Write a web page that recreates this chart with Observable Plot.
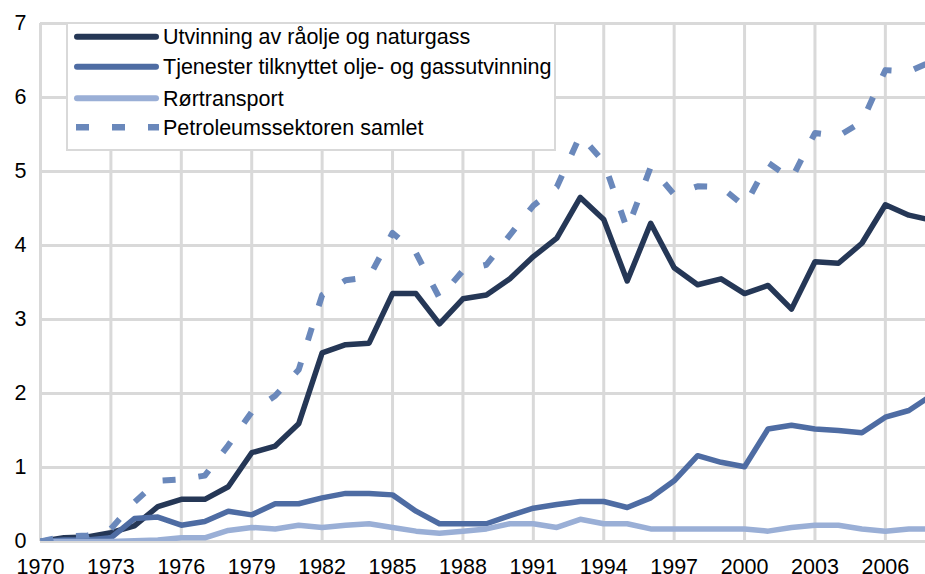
<!DOCTYPE html>
<html>
<head>
<meta charset="utf-8">
<script src="https://cdn.jsdelivr.net/npm/d3@7"></script>
<script src="https://cdn.jsdelivr.net/npm/@observablehq/plot@0.6"></script>
<style>
  html, body { margin: 0; padding: 0; background: #fff; }
  #wrap { position: relative; width: 925px; height: 574px; font-family: "Liberation Sans", Arial, sans-serif; }
  #legend { position: absolute; left: 66px; top: 22px; }
</style>
</head>
<body>
<div id="wrap"></div>
<script>
const years = d3.range(1970, 2009);
const seriesNames = [
  "Utvinning av råolje og naturgass",
  "Tjenester tilknyttet olje- og gassutvinning",
  "Rørtransport",
  "Petroleumssektoren samlet"
];
const utvinning = [0, 0.05, 0.06, 0.12, 0.21, 0.47, 0.57, 0.57, 0.74, 1.2, 1.29, 1.59, 2.55, 2.66, 2.68, 3.35, 3.35, 2.94, 3.28, 3.33, 3.55, 3.85, 4.1, 4.65, 4.35, 3.52, 4.3, 3.7, 3.47, 3.55, 3.35, 3.46, 3.14, 3.78, 3.76, 4.03, 4.55, 4.41, 4.34];
const tjenester = [0, 0.02, 0.02, 0.05, 0.31, 0.33, 0.22, 0.27, 0.41, 0.36, 0.51, 0.51, 0.59, 0.65, 0.65, 0.63, 0.41, 0.24, 0.24, 0.24, 0.35, 0.45, 0.5, 0.54, 0.54, 0.46, 0.59, 0.82, 1.16, 1.07, 1.01, 1.52, 1.57, 1.52, 1.5, 1.47, 1.68, 1.77, 1.98];
const rortransport = [0, 0, 0, 0, 0.01, 0.02, 0.05, 0.05, 0.15, 0.19, 0.17, 0.22, 0.19, 0.22, 0.24, 0.19, 0.14, 0.11, 0.14, 0.17, 0.24, 0.24, 0.19, 0.3, 0.24, 0.24, 0.17, 0.17, 0.17, 0.17, 0.17, 0.14, 0.19, 0.22, 0.22, 0.17, 0.14, 0.17, 0.17];
const petroleum = [0, 0.07, 0.08, 0.17, 0.53, 0.82, 0.84, 0.89, 1.3, 1.75, 1.97, 2.32, 3.33, 3.53, 3.57, 4.17, 3.9, 3.29, 3.66, 3.74, 4.14, 4.54, 4.79, 5.49, 5.13, 4.22, 5.06, 4.69, 4.8, 4.79, 4.53, 5.12, 4.9, 5.52, 5.48, 5.67, 6.37, 6.35, 6.49];
const xTicks = d3.range(1970, 2007, 3);
const yTicks = d3.range(0, 8);

const colors = ["#253756", "#4e6ca3", "#9aafd6", "#6a88bb"];
const seriesValues = [utvinning, tjenester, rortransport, petroleum];

const table = [];
seriesValues.forEach((vals, si) => {
  vals.forEach((v, i) => table.push({series: seriesNames[si], year: years[i], value: v}));
});

const solid = table.filter(d => d.series !== seriesNames[3]);
const dashed = table.filter(d => d.series === seriesNames[3]);

const chart = Plot.plot({
  width: 925,
  height: 574,
  marginLeft: 40,
  marginRight: 0,
  marginTop: 23,
  marginBottom: 33,
  style: {fontFamily: '"Liberation Sans", Arial, sans-serif', fontSize: "21.5px", color: "#000", background: "#fff", overflow: "visible"},
  x: {type: "linear", domain: [1970, 2007.71], label: null},
  y: {domain: [0, 7], label: null},
  color: {domain: seriesNames, range: colors},
  marks: [
    Plot.gridX(xTicks, {stroke: "#d9d9d9", strokeOpacity: 1, strokeWidth: 3}),
    Plot.gridY(yTicks, {stroke: "#d9d9d9", strokeOpacity: 1, strokeWidth: 3}),
    Plot.axisX(xTicks, {tickSize: 0, tickPadding: 17, tickFormat: d => String(d), fontSize: 21.5, fill: "#000"}),
    Plot.axisY(yTicks, {tickSize: 0, tickPadding: 14, tickFormat: d => String(d), fontSize: 21.5, fill: "#000"}),
    Plot.line(solid, {x: "year", y: "value", z: "series", stroke: "series", strokeWidth: 5.5, strokeLinejoin: "round", strokeLinecap: "round", clip: true}),
    Plot.line(dashed, {x: "year", y: "value", stroke: "series", strokeWidth: 6, strokeDasharray: "13,23", strokeLinecap: "butt", clip: true})
  ]
});
document.getElementById("wrap").appendChild(chart);

// Legend (inside plot area, top-left)
const legW = 490, legH = 129;
const leg = d3.select("#wrap").append("svg")
  .attr("id", "legend")
  .attr("width", legW).attr("height", legH);
leg.append("rect").attr("x", 1).attr("y", 1).attr("width", legW - 2).attr("height", legH - 2)
  .attr("fill", "#fff").attr("stroke", "#d9d9d9").attr("stroke-width", 2);
const rowY = [14.7, 44.7, 76.3, 105.3];
seriesNames.forEach((name, i) => {
  const g = leg.append("g");
  if (i < 3) {
    g.append("line").attr("x1", 11).attr("x2", 90).attr("y1", rowY[i]).attr("y2", rowY[i])
      .attr("stroke", colors[i]).attr("stroke-width", 6).attr("stroke-linecap", "round");
  } else {
    g.append("line").attr("x1", 10).attr("x2", 93).attr("y1", rowY[i]).attr("y2", rowY[i])
      .attr("stroke", colors[i]).attr("stroke-width", 6.5).attr("stroke-dasharray", "13,23");
  }
  g.append("text").attr("x", 97).attr("y", rowY[i]).attr("dy", "0.36em")
    .attr("font-family", '"Liberation Sans", Arial, sans-serif').attr("font-size", 21.5)
    .attr("fill", "#000").text(name);
});
</script>
</body>
</html>
